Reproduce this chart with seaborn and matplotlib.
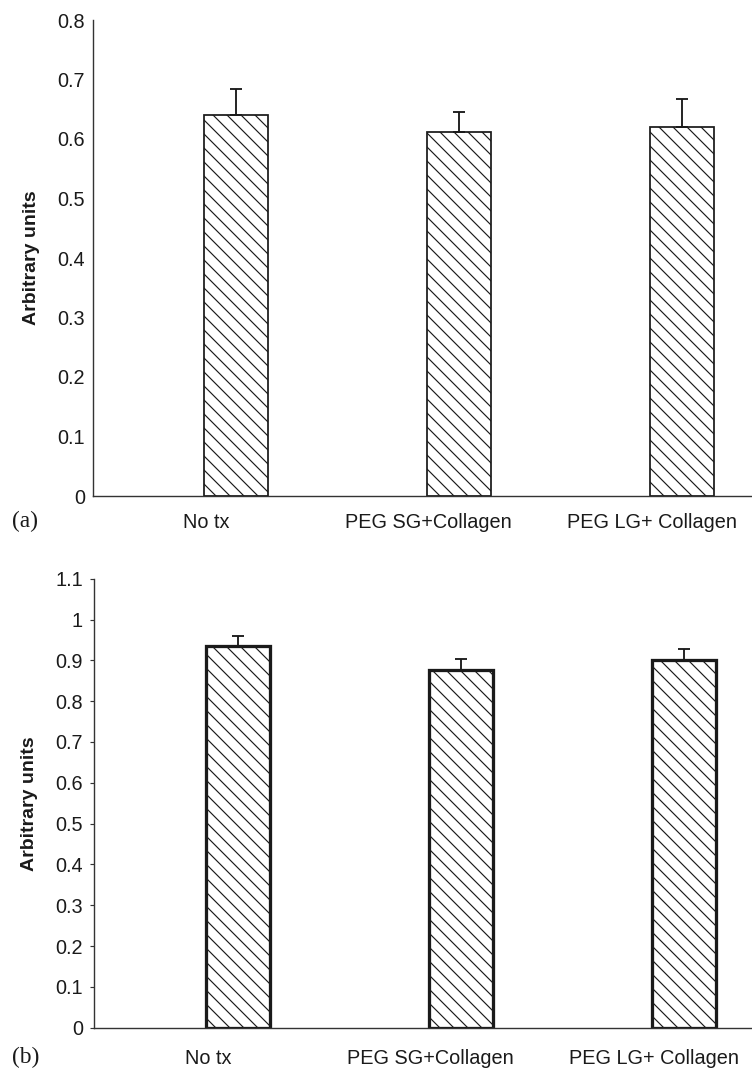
import matplotlib
matplotlib.use("Agg")
import matplotlib.pyplot as plt
import seaborn as sns
import pandas as pd
import numpy as np

# ---- data ----
categories = ["No tx", "PEG SG+Collagen", "PEG LG+ Collagen"]
values_a = [0.64, 0.611, 0.620]
errors_a = [0.044, 0.034, 0.047]
values_b = [0.935, 0.877, 0.900]
errors_b = [0.025, 0.027, 0.028]
yticks_a = [0, 0.1, 0.2, 0.3, 0.4, 0.5, 0.6, 0.7, 0.8]
yticklabels_a = ["0", "0.1", "0.2", "0.3", "0.4", "0.5", "0.6", "0.7", "0.8"]
yticks_b = [0, 0.1, 0.2, 0.3, 0.4, 0.5, 0.6, 0.7, 0.8, 0.9, 1.0, 1.1]
yticklabels_b = ["0", "0.1", "0.2", "0.3", "0.4", "0.5", "0.6", "0.7", "0.8", "0.9", "1", "1.1"]
ylabel = "Arbitrary units"
panel_labels = ["(a)", "(b)"]

DPI = 84
W, H = 752, 1082
sns.set_theme(style="white")
plt.rcParams["font.family"] = ["Liberation Sans", "DejaVu Sans"]
plt.rcParams["hatch.linewidth"] = 1.0
plt.rcParams["hatch.color"] = "#333333"

fig = plt.figure(figsize=(W / DPI, H / DPI), dpi=DPI)

def px_rect(left, top, right, bottom):
    return [left / W, 1 - bottom / H, (right - left) / W, (bottom - top) / H]

ax_a = fig.add_axes(px_rect(93, 20, 752, 496))
ax_b = fig.add_axes(px_rect(94, 578.7, 752, 1027.7))

# label shift (in category units) to mimic offset category labels
label_shift = -0.135

panels = [
    (ax_a, values_a, errors_a, yticks_a, yticklabels_a, (0, 0.8), (-0.641, 2.314), 1.5, 0, 14.5),
    (ax_b, values_b, errors_b, yticks_b, yticklabels_b, (0, 1.1), (-0.646, 2.306), 2.8, 3.4, 18.5),
]

for i, (ax, vals, errs, yt, ytl, ylim, xlim, ew, ticklen, xpad) in enumerate(panels):
    df = pd.DataFrame({"group": categories, "value": vals})
    sns.barplot(data=df, x="group", y="value", ax=ax, color="white",
                edgecolor="#1a1a1a", linewidth=ew, width=0.287,
                errorbar=None, saturation=1)
    for p in ax.patches:
        p.set_hatch("\\\\")
    xs = np.arange(len(categories))
    ax.errorbar(xs, vals, yerr=[np.zeros(len(errs)), errs], fmt="none",
                ecolor="#1a1a1a", elinewidth=1.6, capsize=5, capthick=1.6, zorder=1)
    ax.set_ylim(*ylim)
    ax.set_xlim(*xlim)
    ax.set_yticks(yt)
    ax.set_yticklabels(ytl, fontsize=17, color="#1a1a1a")
    ax.set_xticks(xs + label_shift)
    ax.set_xticklabels(categories, fontsize=17, color="#1a1a1a")
    ax.tick_params(axis="x", length=0, pad=xpad)
    ax.tick_params(axis="y", length=ticklen, width=1.0, color="#333333",
                   direction="out", pad=6 if ticklen else 7, left=True)
    ax.set_xlabel("")
    ax.set_ylabel(ylabel, fontsize=16.7, fontweight="bold", color="#1a1a1a", labelpad=15)
    for s in ["top", "right"]:
        ax.spines[s].set_visible(False)
    for s in ["left", "bottom"]:
        ax.spines[s].set_color("#333333")
        ax.spines[s].set_linewidth(1.2)
    ax.set_facecolor("white")

fig.text(12 / W, 1 - 521 / H, panel_labels[0], family="Liberation Serif",
         fontsize=20, va="center", ha="left", color="#1a1a1a")
fig.text(12 / W, 1 - 1057 / H, panel_labels[1], family="Liberation Serif",
         fontsize=20, va="center", ha="left", color="#1a1a1a")

fig.savefig("out.png", dpi=DPI, facecolor="white")
